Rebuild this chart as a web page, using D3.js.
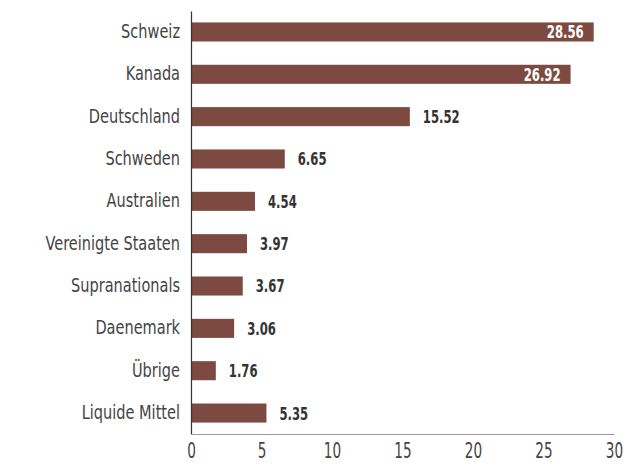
<!DOCTYPE html>
<html lang="de">
<head>
<meta charset="UTF-8">
<title>Länderallokation</title>
<script src="https://d3js.org/d3.v7.min.js"></script>
<style>
    body { margin: 0; background: #fff; }
    svg text { font-family: "Liberation Sans Narrow", "DejaVu Sans Condensed", sans-serif; }
</style>
</head>
<body>
<svg id="chart" width="627" height="473"></svg>
<script>
    // data
    const categories = ["Schweiz", "Kanada", "Deutschland", "Schweden", "Australien",
        "Vereinigte Staaten", "Supranationals", "Daenemark", "Übrige", "Liquide Mittel"];
    const values = [28.56, 26.92, 15.52, 6.65, 4.54, 3.97, 3.67, 3.06, 1.76, 5.35];
    const xTicks = [0, 5, 10, 15, 20, 25, 30];

    const width = 627, height = 473;
    const margin = { top: 11, right: 13, bottom: 39, left: 191 };
    const barColor = "#7d4a42";

    // the original font is a narrow one, squeeze the fallback horizontally
    const squeezeCat = 0.85, squeezeVal = 0.72, squeezeTick = 0.72;

    const svg = d3.select("#chart");

    const x = d3.scaleLinear()
        .domain([0, 30])
        .range([margin.left, width - margin.right]);

    const y = d3.scaleBand()
        .domain(categories)
        .range([margin.top, height - margin.bottom])
        .paddingInner(0.55)
        .paddingOuter(0.27);

    // bars
    svg.append("g")
        .selectAll("rect")
        .data(values)
        .join("rect")
        .attr("x", x(0))
        .attr("y", (d, i) => y(categories[i]))
        .attr("width", d => x(d) - x(0))
        .attr("height", y.bandwidth())
        .attr("fill", barColor);

    // value labels: inside for the long bars, outside otherwise
    svg.append("g")
        .selectAll("text")
        .data(values)
        .join("text")
        .attr("transform", `scale(${squeezeVal},1)`)
        .attr("x", d => (d > 20 ? x(d) - 10 : x(d) + 13) / squeezeVal)
        .attr("y", (d, i) => y(categories[i]) + y.bandwidth() / 2)
        .attr("dy", "0.36em")
        .attr("text-anchor", d => d > 20 ? "end" : "start")
        .attr("font-size", "18px")
        .attr("font-weight", "bold")
        .attr("fill", d => d > 20 ? "#fff" : "#333")
        .text(d => d.toFixed(2));

    // y axis
    const yAxis = svg.append("g")
        .attr("transform", `translate(${margin.left},0)`)
        .call(d3.axisLeft(y).tickSize(0).tickPadding(11));
    yAxis.select(".domain").attr("stroke", "#333").attr("stroke-width", 1.2);
    yAxis.selectAll("text")
        .attr("font-size", "19px")
        .attr("fill", "#444")
        .attr("transform", `scale(${squeezeCat},1)`)
        .attr("x", -11 / squeezeCat);

    // x axis
    const xAxis = svg.append("g")
        .attr("transform", `translate(0,${height - margin.bottom})`)
        .call(d3.axisBottom(x).tickValues(xTicks).tickSize(0).tickPadding(9));
    xAxis.select(".domain").attr("stroke", "#999").attr("stroke-width", 1.2);
    xAxis.selectAll("text")
        .attr("font-size", "21px")
        .attr("fill", "#444")
        .attr("transform", `scale(${squeezeTick},1)`);
</script>
</body>
</html>
